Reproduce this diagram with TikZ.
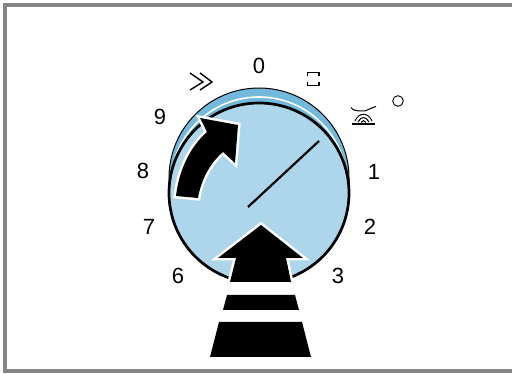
\documentclass[tikz,border=0pt]{standalone}
\usepackage{fontspec}
\setmainfont{Liberation Sans}
\definecolor{dialblue}{HTML}{ADD6EB}
\definecolor{rimblue}{HTML}{72B9DC}
\definecolor{framegray}{HTML}{858585}
\tikzset{
  num/.style={font=\fontsize{22}{24}\selectfont,text=black,inner sep=0pt},
  arrowshape/.style={fill=black,preaction={draw=white,line width=5pt,line join=miter}},
  symline/.style={black,line width=1.2pt}
}
\begin{document}
\begin{tikzpicture}[x=1pt,y=-1pt]
\useasboundingbox (0,0) rectangle (512,374);
\draw[framegray,line width=4pt] (514,5) -- (5,5) -- (5,371) -- (514,371);
% dial
\fill[rimblue,draw=black,line width=1pt] (169,178) arc[start angle=180,end angle=360,radius=90] -- (349,193) arc[start angle=0,end angle=180,radius=90] -- cycle;
\draw[white,line width=1.6pt] (259,185) circle[radius=88];
\fill[dialblue] (259,193) circle[radius=90];
\draw[black,line width=2.7pt] (259,193) circle[radius=90];
\coordinate (needleA) at (248,207);
\coordinate (needleB) at (319,141);
\draw[black,line width=2.2pt] (needleA) -- (needleB);
% curved arrow
\path[arrowshape] (200,118) -- (238,125) -- (235,163) -- (223,152) .. controls (210,163) and (201,180) .. (198,198) -- (176,196) .. controls (179,170) and (190,147) .. (207,132) -- cycle;
% big arrow
\fill[white] (228,281) rectangle (294,287);
\path[arrowshape] (261,225) -- (303,258) -- (286,258) -- (291,282) -- (230,282) -- (236,258) -- (218,258) -- cycle;
\fill[black] (227,295) -- (295,295) -- (299,310) -- (223,310) -- cycle;
\fill[black] (219,322) -- (302,322) -- (311,357) -- (210,357) -- cycle;
% labels
\node[num] (n0) at (259,66) {0};
\node[num] (n1) at (374,172) {1};
\node[num] (n2) at (370,227) {2};
\node[num] (n3) at (338,276) {3};
\node[num] (n6) at (178,276) {6};
\node[num] (n7) at (149,227) {7};
\node[num] (n8) at (143,171) {8};
\node[num] (n9) at (160,117) {9};
% symbols
\draw[symline,line width=1.4pt] (190,73) -- (203,82) -- (190,90);
\draw[symline,line width=1.4pt] (200,73) -- (212,82) -- (200,90);
\draw[symline,line width=1.1pt] (307.5,76) -- (307.5,72.5) -- (319,72.5) -- (319,76);
\draw[symline,line width=1.1pt] (307.5,82) -- (307.5,85.5) -- (319,85.5) -- (319,82);
\draw[black,line width=0.9pt] (398,101) circle[radius=5.3];
\draw[symline,line width=1pt] (351,107.5) .. controls (353,111) and (358,111) .. (365,111) .. controls (369,110) and (370,108) .. (376,106.5);
\draw[black,line width=1.8pt] (352,124) -- (375,124);
\draw[symline,line width=1pt] (355,121) .. controls (359,112) and (368,112) .. (372,121);
\draw[symline,line width=1pt] (358,122) .. controls (361,116) and (366,116) .. (369,122);
\draw[symline,line width=1pt] (361,122.5) .. controls (362,120) and (365,120) .. (366,122.5);
\end{tikzpicture}
\end{document}
